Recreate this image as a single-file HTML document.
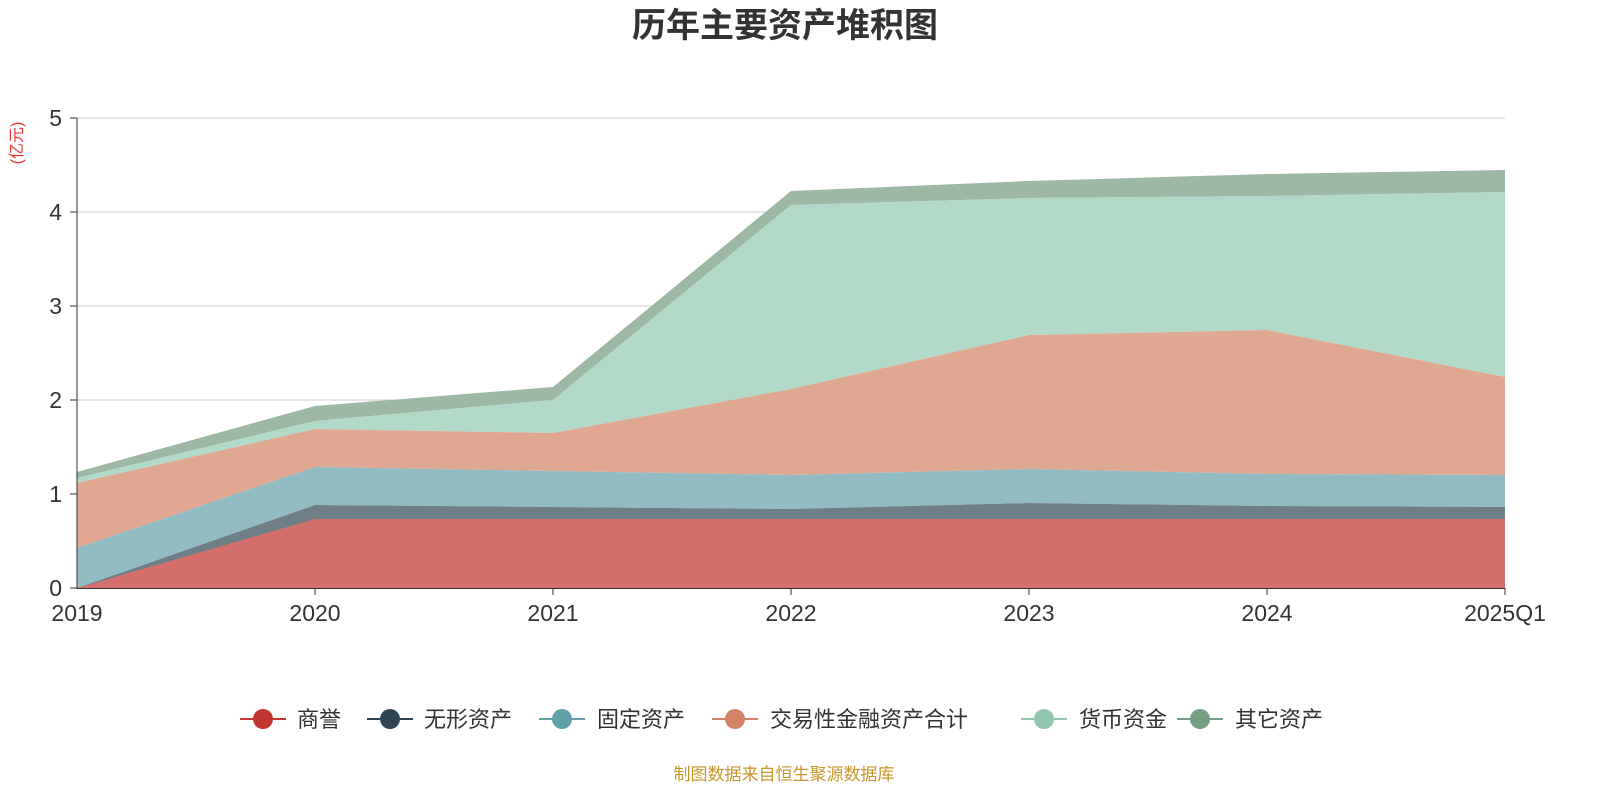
<!DOCTYPE html>
<html><head><meta charset="utf-8"><style>
body{margin:0;width:1600px;height:800px;background:#fff;overflow:hidden}
text{font-family:"Liberation Sans","Noto Sans CJK SC",sans-serif}
</style></head><body>
<svg width="1600" height="800" xmlns="http://www.w3.org/2000/svg">
<text x="785" y="37" text-anchor="middle" font-size="34" font-weight="bold" fill="#333">历年主要资产堆积图</text>
<text transform="translate(22,143) rotate(-90)" text-anchor="middle" font-size="16" fill="#e33">(亿元)</text>
<g stroke="#ccc" stroke-width="1">
<line x1="77" y1="118" x2="1505" y2="118"/><line x1="77" y1="212" x2="1505" y2="212"/>
<line x1="77" y1="306" x2="1505" y2="306"/><line x1="77" y1="400" x2="1505" y2="400"/>
<line x1="77" y1="494" x2="1505" y2="494"/></g>
<polygon fill="#9db8a4" points="77,472 315,406 553,387 791,191 1029,181 1267,174 1505,170 1505,192 1267,196 1029,198 791,205 553,400 315,421 77,478"/>
<polygon fill="#b1d9c8" points="77,478 315,421 553,400 791,205 1029,198 1267,196 1505,192 1505,377 1267,330 1029,335 791,389 553,433 315,429 77,483"/>
<polygon fill="#e0a891" points="77,483 315,429 553,433 791,389 1029,335 1267,330 1505,377 1505,475 1267,474 1029,469 791,475 553,471 315,467 77,548"/>
<polygon fill="#91bcc3" points="77,548 315,467 553,471 791,475 1029,469 1267,474 1505,475 1505,507 1267,506 1029,503 791,509 553,507 315,505 77,588"/>
<polygon fill="#6e7f88" points="77,588 315,505 553,507 791,509 1029,503 1267,506 1505,507 1505,519 77,588"/>
<polygon fill="#d4706c" points="77,588 315,519 553,519 791,519 1029,519 1267,519 1505,519 1505,588"/>
<line x1="77" y1="118" x2="77" y2="589" stroke="#333"/>
<line x1="77" y1="588.5" x2="1505" y2="588.5" stroke="#333"/>
<g stroke="#333"><line x1="70" y1="118" x2="77" y2="118"/><line x1="70" y1="212" x2="77" y2="212"/><line x1="70" y1="306" x2="77" y2="306"/><line x1="70" y1="400" x2="77" y2="400"/><line x1="70" y1="494" x2="77" y2="494"/><line x1="70" y1="588" x2="77" y2="588"/>
<line x1="315" y1="588" x2="315" y2="595"/><line x1="553" y1="588" x2="553" y2="595"/><line x1="791" y1="588" x2="791" y2="595"/><line x1="1029" y1="588" x2="1029" y2="595"/><line x1="1267" y1="588" x2="1267" y2="595"/><line x1="1505" y1="588" x2="1505" y2="595"/></g>
<g font-size="23" fill="#333" text-anchor="end"><text x="62" y="126">5</text><text x="62" y="220">4</text><text x="62" y="314">3</text><text x="62" y="408">2</text><text x="62" y="502">1</text><text x="62" y="596">0</text></g>
<g font-size="23" fill="#333" text-anchor="middle"><text x="77" y="621">2019</text><text x="315" y="621">2020</text><text x="553" y="621">2021</text><text x="791" y="621">2022</text><text x="1029" y="621">2023</text><text x="1267" y="621">2024</text><text x="1505" y="621">2025Q1</text></g>
<g font-size="22" fill="#333">
<line x1="240" y1="719" x2="286" y2="719" stroke="#c23531" stroke-width="2"/><circle cx="263" cy="719" r="10" fill="#c23531"/><text x="297" y="727">商誉</text>
<line x1="367" y1="719" x2="413" y2="719" stroke="#2f4554" stroke-width="2"/><circle cx="390" cy="719" r="10" fill="#2f4554"/><text x="424" y="727">无形资产</text>
<line x1="539" y1="719" x2="585" y2="719" stroke="#61a0a8" stroke-width="2"/><circle cx="562" cy="719" r="10" fill="#61a0a8"/><text x="597" y="727">固定资产</text>
<line x1="712" y1="719" x2="758" y2="719" stroke="#d48265" stroke-width="2"/><circle cx="735" cy="719" r="10" fill="#d48265"/><text x="770" y="727">交易性金融资产合计</text>
<line x1="1021" y1="719" x2="1067" y2="719" stroke="#91c7ae" stroke-width="2"/><circle cx="1044" cy="719" r="10" fill="#91c7ae"/><text x="1079" y="727">货币资金</text>
<line x1="1177" y1="719" x2="1223" y2="719" stroke="#749f83" stroke-width="2"/><circle cx="1200" cy="719" r="10" fill="#749f83"/><text x="1235" y="727">其它资产</text>
</g>
<text x="784" y="780" text-anchor="middle" font-size="17" fill="#c8962a">制图数据来自恒生聚源数据库</text>
</svg>
</body></html>
